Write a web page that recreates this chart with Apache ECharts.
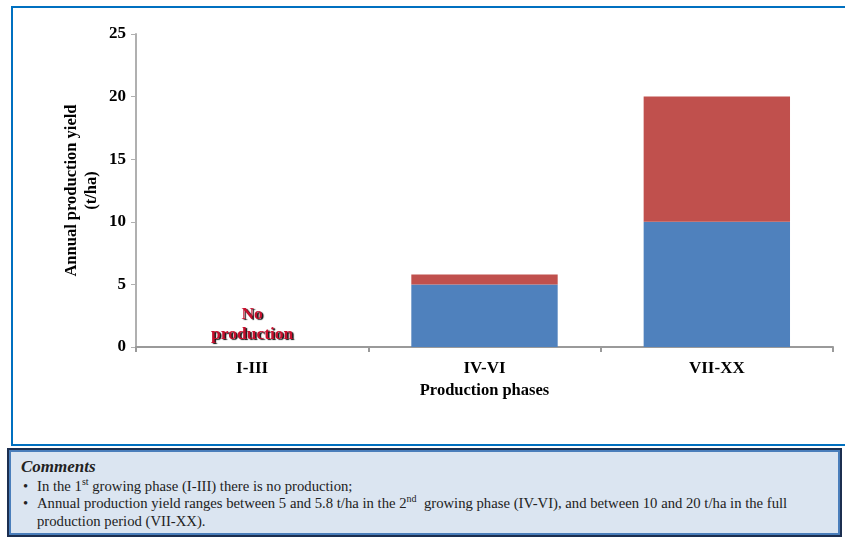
<!DOCTYPE html>
<html>
<head>
<meta charset="utf-8">
<script src="https://cdn.jsdelivr.net/npm/echarts@6/dist/echarts.min.js"></script>
<style>
  body { margin: 0; background: #fff; width: 845px; height: 541px; overflow: hidden; position: relative; }
  .frame {
    position: absolute; left: 11px; top: 6px; width: 850px; height: 436px;
    border: 2px solid #0070c0; box-sizing: content-box;
  }
  #main { position: absolute; left: 0; top: 0; width: 845px; height: 445px; }
  .comments {
    position: absolute; left: 7px; top: 448px; width: 835px; height: 89px;
    box-sizing: border-box; border: 2px solid #1c2f50;
    box-shadow: inset 0 0 0 2px #4a7ebb;
    background: #dbe5f1;
    font-family: "Liberation Serif", "DejaVu Serif", serif;
    font-size: 14.7px; color: #222; line-height: 17.5px;
    padding: 8px 0 0 12px;
  }
  .comments .title { font-weight: bold; font-style: italic; font-size: 17px; margin-bottom: 2px; }
  .comments ul { margin: 0; padding-left: 16px; }
  .comments li { list-style: none; position: relative; }
  .comments li::before { content: "\2022"; position: absolute; left: -14px; }
  .comments sup { font-size: 10px; line-height: 0; }
</style>
</head>
<body>
<div class="frame"></div>
<div id="main"></div>
<div class="comments">
  <div class="title">Comments</div>
  <ul>
    <li>In the 1<sup>st</sup> growing phase (I-III) there is no production;</li>
    <li>Annual production yield ranges between 5 and 5.8 t/ha in the 2<sup>nd</sup>&nbsp; growing phase (IV-VI), and between 10 and 20 t/ha in the full production period (VII-XX).</li>
  </ul>
</div>
<script>
// data
const phases = ['I-III', 'IV-VI', 'VII-XX']
const minYield = [0, 5, 10]
const extraYield = [0, 0.8, 10]
const yTicks = [0, 5, 10, 15, 20, 25]

const chart = echarts.init(document.getElementById('main'))
const serif = '"Liberation Serif", "DejaVu Serif", serif'

const option = {
  animation: false,
  grid: { left: 136, right: 12, top: 34, bottom: 98 },
  xAxis: {
    type: 'category',
    data: phases,
    name: 'Production phases',
    nameLocation: 'middle',
    nameGap: 34,
    nameTextStyle: { fontFamily: serif, fontWeight: 'bold', fontSize: 16.5, color: '#000' },
    axisLine: { lineStyle: { color: '#9a9a9a', width: 2 } },
    axisTick: { show: true, length: 5, lineStyle: { color: '#9a9a9a', width: 2 } },
    axisLabel: { fontFamily: serif, fontWeight: 'bold', fontSize: 17, color: '#000', margin: 13 }
  },
  yAxis: {
    type: 'value',
    min: yTicks[0],
    max: yTicks[yTicks.length - 1],
    interval: 5,
    name: 'Annual production yield\n(t/ha)',
    nameLocation: 'middle',
    nameRotate: 90,
    nameGap: 54,
    nameMoveOverlap: false,
    nameTextStyle: {
      fontFamily: serif, fontWeight: 'bold', fontSize: 16.5, color: '#000', lineHeight: 20,
      align: 'center', verticalAlign: 'middle'
    },
    axisLine: { show: true, lineStyle: { color: '#b0b0b0', width: 2 } },
    axisTick: { show: true, length: 5, lineStyle: { color: '#b0b0b0', width: 1 } },
    axisLabel: { fontFamily: serif, fontWeight: 'bold', fontSize: 17, color: '#000', margin: 10 },
    splitLine: { show: false }
  },
  series: [
    {
      type: 'bar',
      stack: 'yield',
      barWidth: '63%',
      itemStyle: { color: '#4f81bd' },
      data: minYield.map((v, i) => {
        if (i === 0) {
          return {
            value: v,
            label: {
              show: true,
              position: 'top',
              distance: 3,
              formatter: 'No\nproduction',
              fontFamily: serif,
              fontWeight: 'bold',
              fontSize: 17.5,
              lineHeight: 20,
              color: '#c8102e',
              textShadowColor: '#111',
              textShadowOffsetX: 1.5,
              textShadowOffsetY: 1.5,
              textShadowBlur: 1
            }
          }
        }
        return v
      })
    },
    {
      type: 'bar',
      stack: 'yield',
      barWidth: '63%',
      itemStyle: { color: '#c0504d' },
      data: extraYield
    }
  ]
}

chart.setOption(option)
</script>
</body>
</html>
